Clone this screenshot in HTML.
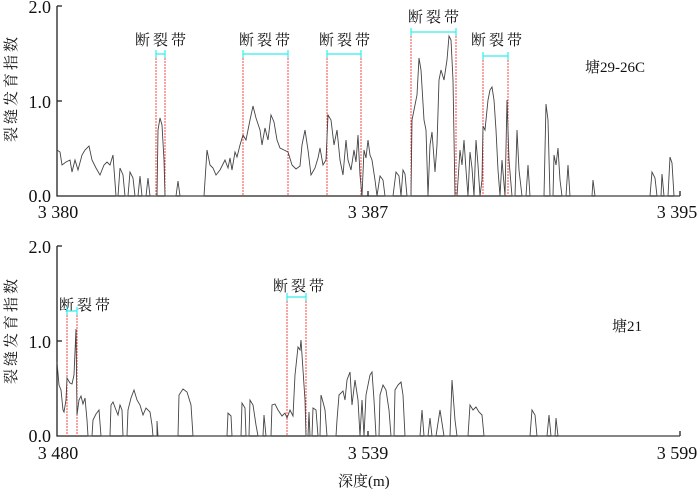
<!DOCTYPE html>
<html><head><meta charset="utf-8"><style>
body{margin:0;background:#fff}
svg text{font-family:"Liberation Serif","Noto Serif CJK SC",serif;fill:#111}
</style></head><body>
<svg width="700" height="492" viewBox="0 0 700 492" xmlns="http://www.w3.org/2000/svg">
<g stroke="#222" stroke-width="1.3" fill="none">
<polyline points="57,6 57,196 680,196"/>
<polyline points="57,246 57,436 680,436"/>
<line x1="57" y1="6" x2="62" y2="6"/><line x1="57" y1="101" x2="62" y2="101"/>
<line x1="57" y1="246" x2="62" y2="246"/><line x1="57" y1="341" x2="62" y2="341"/>
<line x1="368" y1="196" x2="368" y2="191"/><line x1="680" y1="196" x2="680" y2="191"/>
<line x1="368" y1="436" x2="368" y2="431"/><line x1="680" y1="436" x2="680" y2="431"/>
</g>
<g font-size="18" text-anchor="end">
<text x="51" y="13">2.0</text><text x="51" y="108">1.0</text><text x="51" y="202">0.0</text>
<text x="51" y="253">2.0</text><text x="51" y="348">1.0</text><text x="51" y="442">0.0</text>
</g>
<g font-size="18" text-anchor="middle">
<text x="58" y="218">3 380</text><text x="368" y="218">3 387</text><text x="677" y="218">3 395</text>
<text x="58" y="459">3 480</text><text x="368" y="459">3 539</text><text x="677" y="459">3 599</text>
</g>
<g font-size="15" letter-spacing="3" text-anchor="middle">
<text transform="translate(16,88) rotate(-90)">裂缝发育指数</text>
<text transform="translate(16,330) rotate(-90)">裂缝发育指数</text>
<text x="162" y="45">断裂带</text><text x="266" y="45">断裂带</text><text x="346" y="45">断裂带</text>
<text x="435" y="22">断裂带</text><text x="498" y="45">断裂带</text>
<text x="86" y="310">断裂带</text><text x="300" y="291">断裂带</text>
</g>
<g font-size="15">
<text x="338" y="486">深度(m)</text>
<text x="585" y="72">塘29-26C</text>
<text x="612" y="331">塘21</text>
</g>
<g stroke="#f44" stroke-width="1" stroke-dasharray="2,1">
<line x1="156" y1="58" x2="156" y2="196"/><line x1="165" y1="58" x2="165" y2="196"/>
<line x1="243" y1="58" x2="243" y2="196"/><line x1="288" y1="58" x2="288" y2="196"/>
<line x1="327" y1="58" x2="327" y2="196"/><line x1="361" y1="58" x2="361" y2="196"/>
<line x1="411" y1="36" x2="411" y2="196"/><line x1="456" y1="36" x2="456" y2="196"/>
<line x1="483" y1="60" x2="483" y2="196"/><line x1="508" y1="60" x2="508" y2="196"/>
<line x1="67" y1="315" x2="67" y2="436"/><line x1="77" y1="315" x2="77" y2="436"/>
<line x1="287" y1="301" x2="287" y2="436"/><line x1="306" y1="301" x2="306" y2="436"/>
</g>
<g stroke="#3ee" stroke-width="1.2">
<path d="M156,54H165M156,50V58M165,50V58"/>
<path d="M243,54H288M243,50V58M288,50V58"/>
<path d="M327,54H361M327,50V58M361,50V58"/>
<path d="M411,32H456M411,28V36M456,28V36"/>
<path d="M483,56H508M483,52V60M508,52V60"/>
<path d="M67,311H77M67,307V315M77,307V315"/>
<path d="M287,297H306M287,293V301M306,293V301"/>
</g>
<g stroke="#444" stroke-width="0.9" fill="none">
<polyline points="57,150 60,152 62,165 66,162 70,160 72,172 75,160 78,170 82,155 85,150 89,146 92,160 96,168 100,175 104,165 107,162 110,165 113,155 116,196 118,196 120,168 123,175 125,196 128,196 130,172 133,178 135,196 138,196 140,176 142,196 146,196 148,178 150,196 157,196 158,130 160,118 162,125 164,160 165,196 176,196 178,181 180,196 204,196 207,150 210,165 213,168 216,175 220,170 225,160 228,168 230,158 232,170 235,152 237,157 240,145 243,135 246,140 250,120 253,106 256,118 260,130 262,145 265,128 268,140 271,115 274,122 277,140 280,148 284,150 288,152 292,165 296,169 300,166 302,145 305,130 308,150 311,175 315,168 318,158 320,148 323,165 326,160 328,115 331,120 334,145 337,130 340,160 343,175 346,140 348,160 351,170 354,150 356,162 358,135 360,175 362,196 364,150 366,158 368,140 370,155 372,160 375,180 377,196 380,176 383,180 385,196 393,196 396,172 399,176 401,196 403,170 405,174 407,196 411,196 412,120 414,110 417,95 419,58 421,70 424,120 426,130 428,196 430,145 432,132 435,172 437,145 439,80 441,70 444,80 447,60 449,36 451,40 453,80 455,196 457,196 460,150 462,165 464,140 466,170 468,196 470,152 472,168 474,196 476,140 478,165 480,196 482,180 483,126 485,130 488,100 490,90 492,87 494,100 496,130 498,170 500,196 502,160 505,196 507,100 509,160 512,196 515,196 517,130 519,170 522,196 526,196 528,165 530,196 544,196 546,104 548,120 550,196 553,196 554,155 556,165 558,148 560,180 562,196 566,196 568,165 570,196 592,196 593,180 595,196 650,196 652,172 655,178 657,196 661,196 662,174 664,196 668,196 670,157 672,163 674,196 680,196"/>
<polyline points="57,362 59,385 61,390 63,410 64,412 66,400 67,378 70,383 72,384 74,375 76,329 77,415 79,400 81,396 83,404 85,398 87,420 88,436 92,436 93,420 96,414 99,410 101,436 110,436 111,405 113,402 116,410 118,415 120,405 122,410 123,436 127,436 128,410 131,398 134,390 137,400 140,405 143,415 146,408 150,412 152,425 153,436 157,436 157,421 158,436 178,436 179,395 183,389 187,392 191,405 193,436 227,436 228,413 231,416 232,436 241,436 242,403 245,408 246,436 249,436 250,400 253,405 256,425 258,436 263,436 264,415 266,436 271,436 272,405 275,404 278,410 282,416 285,413 287,418 290,410 293,416 295,375 298,347 300,350 301,340 305,400 306,436 308,436 309,412 310,436 312,436 313,408 316,410 318,436 320,436 321,395 323,402 325,410 327,436 336,436 337,420 339,395 343,391 345,400 347,380 350,372 352,405 355,380 358,400 360,436 362,400 364,436 366,395 370,375 372,372 374,400 376,436 379,436 380,395 383,385 386,390 389,410 391,436 394,436 395,390 398,385 401,382 403,395 405,436 420,436 422,410 424,436 428,436 430,418 432,436 436,436 440,410 444,436 450,436 452,380 455,420 457,436 468,436 470,405 473,410 476,407 479,412 482,415 484,436 530,436 532,410 535,415 537,436 547,436 549,415 551,436 555,436 556,418 558,436 680,436"/>
</g>
</svg>
</body></html>
